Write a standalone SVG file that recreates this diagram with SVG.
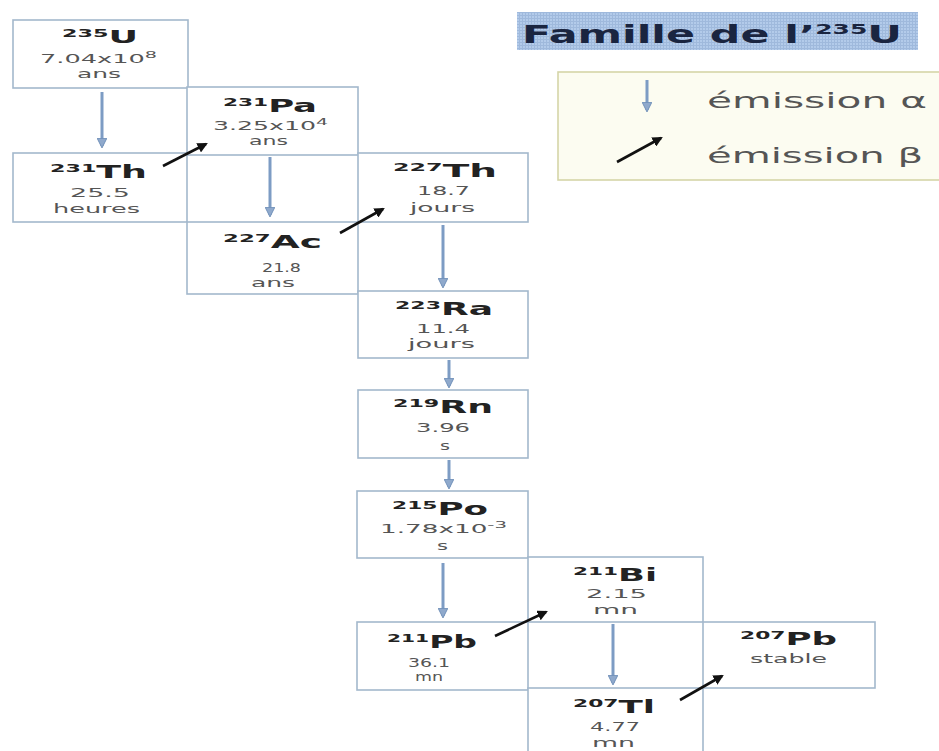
<svg xmlns="http://www.w3.org/2000/svg" width="939" height="751" viewBox="0 0 939 751">
<style>
.box{fill:#ffffff;stroke:#a3b8cc;stroke-width:1.6}
.sym{font-family:"DejaVu Sans","Liberation Sans",sans-serif;font-weight:bold;font-size:18px;fill:#222}
.sup{font-size:11px}
.val{font-family:"DejaVu Sans","Liberation Sans",sans-serif;font-size:12px;fill:#555}
.a{stroke:#7d9cc4;stroke-width:3;fill:none;marker-end:url(#ha)}
.b{stroke:#111;stroke-width:2.6;fill:none;marker-end:url(#hb)}
.title{font-family:"DejaVu Sans","Liberation Sans",sans-serif;font-weight:bold;font-size:24px;fill:#1a2540}
.leg{font-family:"DejaVu Sans","Liberation Sans",sans-serif;font-size:22px;fill:#555}
</style>
<defs>
<marker id="ha" viewBox="0 0 10 10" refX="8" refY="5" markerWidth="3.2" markerHeight="3.2" orient="auto" markerUnits="strokeWidth">
<path d="M0,0 L10,5 L0,10 z" fill="#8fa9cc" stroke="#6f8fb8" stroke-width="1"/>
</marker>
<marker id="hb" viewBox="0 0 10 10" refX="8" refY="5" markerWidth="4" markerHeight="4" orient="auto" markerUnits="strokeWidth">
<path d="M0,0 L10,5 L0,10 z" fill="#111"/>
</marker>
<pattern id="grid" width="3" height="3" patternUnits="userSpaceOnUse">
<rect width="3" height="3" fill="#b3cbea"/>
<path d="M0,0.5 H3 M0.5,0 V3" stroke="#9fb9dc" stroke-width="1"/>
</pattern>
</defs>
<rect width="939" height="751" fill="#ffffff"/>

<g id="title">
<rect x="517" y="12" width="401" height="38" fill="url(#grid)"/>
<text class="title" x="522" y="43" textLength="380" lengthAdjust="spacingAndGlyphs">Famille de l’<tspan font-size="14" dy="-9">235</tspan><tspan dy="9">U</tspan></text>
</g>

<g id="legend">
<rect x="558" y="72" width="390" height="108" fill="#fcfcf1" stroke="#d5d5a8" stroke-width="1.6"/>
<line x1="647" y1="80" x2="647" y2="110" class="a"/>
<line x1="617" y1="162" x2="661" y2="138" class="b"/>
<text class="leg" x="707" y="108" textLength="220" lengthAdjust="spacingAndGlyphs">émission α</text>
<text class="leg" x="707" y="163" textLength="216" lengthAdjust="spacingAndGlyphs">émission β</text>
</g>

<g id="U235">
<rect class="box" x="13" y="20" width="175" height="68"/>
<text class="sym" x="62" y="43" textLength="76" lengthAdjust="spacingAndGlyphs"><tspan class="sup" dy="-6">235</tspan><tspan dy="6">U</tspan></text>
<text class="val" x="40" y="63" textLength="117" lengthAdjust="spacingAndGlyphs">7.04x10<tspan font-size="9" dy="-5">8</tspan></text>
<text class="val" x="77" y="78" textLength="44" lengthAdjust="spacingAndGlyphs">ans</text>
</g>

<g id="Pa231">
<rect class="box" x="187" y="87" width="171" height="68"/>
<text class="sym" x="223" y="112" textLength="94" lengthAdjust="spacingAndGlyphs"><tspan class="sup" dy="-6">231</tspan><tspan dy="6">Pa</tspan></text>
<text class="val" x="213" y="130" textLength="115" lengthAdjust="spacingAndGlyphs">3.25x10<tspan font-size="9" dy="-5">4</tspan></text>
<text class="val" x="249" y="145" textLength="39" lengthAdjust="spacingAndGlyphs">ans</text>
</g>

<g id="Th231">
<rect class="box" x="13" y="153" width="174" height="69"/>
<text class="sym" x="50" y="178" textLength="97" lengthAdjust="spacingAndGlyphs"><tspan class="sup" dy="-6">231</tspan><tspan dy="6">Th</tspan></text>
<text class="val" x="70" y="197" textLength="60" lengthAdjust="spacingAndGlyphs">25.5</text>
<text class="val" x="53" y="213" textLength="87" lengthAdjust="spacingAndGlyphs">heures</text>
</g>

<g id="Ac227">
<rect class="box" x="187" y="222" width="171" height="72"/>
<text class="sym" x="223" y="248" textLength="99" lengthAdjust="spacingAndGlyphs"><tspan class="sup" dy="-6">227</tspan><tspan dy="6">Ac</tspan></text>
<text class="val" x="262" y="272" textLength="39" lengthAdjust="spacingAndGlyphs">21.8</text>
<text class="val" x="251" y="287" textLength="44" lengthAdjust="spacingAndGlyphs">ans</text>
</g>

<g id="Th227">
<rect class="box" x="358" y="153" width="170" height="69"/>
<text class="sym" x="393" y="177" textLength="104" lengthAdjust="spacingAndGlyphs"><tspan class="sup" dy="-6">227</tspan><tspan dy="6">Th</tspan></text>
<text class="val" x="417" y="195" textLength="53" lengthAdjust="spacingAndGlyphs">18.7</text>
<text class="val" x="410" y="212" textLength="65" lengthAdjust="spacingAndGlyphs">jours</text>
</g>

<g id="Ra223">
<rect class="box" x="358" y="291" width="170" height="67"/>
<text class="sym" x="395" y="315" textLength="98" lengthAdjust="spacingAndGlyphs"><tspan class="sup" dy="-6">223</tspan><tspan dy="6">Ra</tspan></text>
<text class="val" x="416" y="333" textLength="54" lengthAdjust="spacingAndGlyphs">11.4</text>
<text class="val" x="408" y="348" textLength="67" lengthAdjust="spacingAndGlyphs">jours</text>
</g>

<g id="Rn219">
<rect class="box" x="358" y="390" width="170" height="68"/>
<text class="sym" x="393" y="413" textLength="100" lengthAdjust="spacingAndGlyphs"><tspan class="sup" dy="-6">219</tspan><tspan dy="6">Rn</tspan></text>
<text class="val" x="416" y="432" textLength="54" lengthAdjust="spacingAndGlyphs">3.96</text>
<text class="val" x="440" y="450" textLength="10" lengthAdjust="spacingAndGlyphs">s</text>
</g>

<g id="Po215">
<rect class="box" x="357" y="491" width="171" height="67"/>
<text class="sym" x="392" y="515" textLength="96" lengthAdjust="spacingAndGlyphs"><tspan class="sup" dy="-6">215</tspan><tspan dy="6">Po</tspan></text>
<text class="val" x="380" y="533" textLength="127" lengthAdjust="spacingAndGlyphs">1.78x10<tspan font-size="9" dy="-5">-3</tspan></text>
<text class="val" x="437" y="550" textLength="11" lengthAdjust="spacingAndGlyphs">s</text>
</g>

<g id="Bi211">
<rect class="box" x="528" y="557" width="175" height="65"/>
<text class="sym" x="573" y="581" textLength="84" lengthAdjust="spacingAndGlyphs"><tspan class="sup" dy="-6">211</tspan><tspan dy="6">Bi</tspan></text>
<text class="val" x="586" y="598" textLength="61" lengthAdjust="spacingAndGlyphs">2.15</text>
<text class="val" x="593" y="614" textLength="45" lengthAdjust="spacingAndGlyphs">mn</text>
</g>

<g id="Pb211">
<rect class="box" x="357" y="622" width="171" height="68"/>
<text class="sym" x="387" y="648" textLength="90" lengthAdjust="spacingAndGlyphs"><tspan class="sup" dy="-6">211</tspan><tspan dy="6">Pb</tspan></text>
<text class="val" x="408" y="667" textLength="42" lengthAdjust="spacingAndGlyphs">36.1</text>
<text class="val" x="415" y="681" textLength="28" lengthAdjust="spacingAndGlyphs">mn</text>
</g>

<g id="Tl207">
<rect class="box" x="528" y="688" width="175" height="70"/>
<text class="sym" x="573" y="713" textLength="82" lengthAdjust="spacingAndGlyphs"><tspan class="sup" dy="-6">207</tspan><tspan dy="6">Tl</tspan></text>
<text class="val" x="590" y="731" textLength="50" lengthAdjust="spacingAndGlyphs">4.77</text>
<text class="val" x="592" y="747" textLength="43" lengthAdjust="spacingAndGlyphs">mn</text>
</g>

<g id="Pb207">
<rect class="box" x="703" y="622" width="172" height="66"/>
<text class="sym" x="740" y="645" textLength="97" lengthAdjust="spacingAndGlyphs"><tspan class="sup" dy="-6">207</tspan><tspan dy="6">Pb</tspan></text>
<text class="val" x="750" y="663" textLength="77" lengthAdjust="spacingAndGlyphs">stable</text>
</g>

<g id="connectors">
<line class="a" x1="102" y1="92" x2="102" y2="146"/>
<line class="a" x1="270" y1="157" x2="270" y2="215"/>
<line class="a" x1="443" y1="225" x2="443" y2="286"/>
<line class="a" x1="449" y1="360" x2="449" y2="386"/>
<line class="a" x1="449" y1="460" x2="449" y2="487"/>
<line class="a" x1="443" y1="563" x2="443" y2="616"/>
<line class="a" x1="613" y1="624" x2="613" y2="683"/>
<line class="b" x1="163" y1="166" x2="206" y2="144"/>
<line class="b" x1="340" y1="233" x2="383" y2="209"/>
<line class="b" x1="495" y1="636" x2="546" y2="612"/>
<line class="b" x1="680" y1="700" x2="722" y2="676"/>
</g>
</svg>
